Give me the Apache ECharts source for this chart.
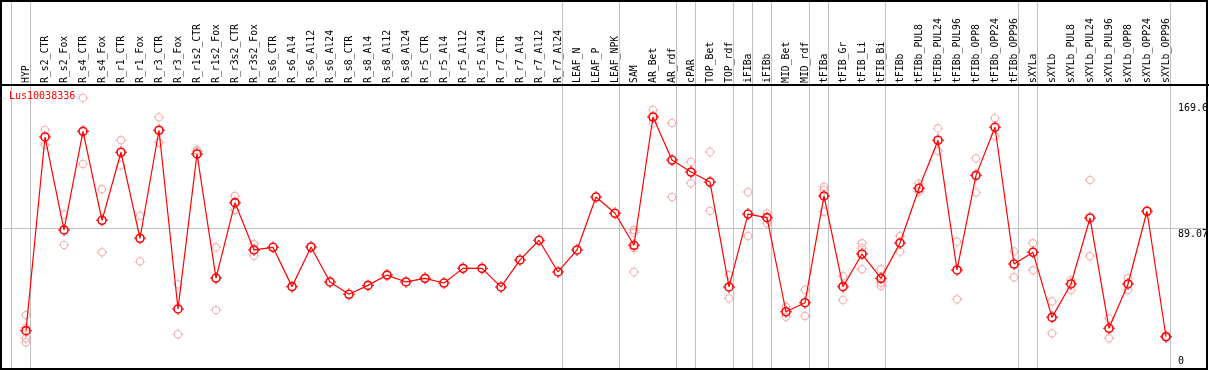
<!DOCTYPE html>
<html><head><meta charset="utf-8">
<script src="https://cdn.jsdelivr.net/npm/echarts@6/dist/echarts.min.js"></script>
<style>html,body{margin:0;padding:0;background:#fff}#c{width:1209px;height:370px}</style>
</head><body><div id="c"></div>
<script>
const seriesName = 'Lus10038336';
const categories = ['HYP','R_s2_CTR','R_s2_Fox','R_s4_CTR','R_s4_Fox','R_r1_CTR','R_r1_Fox','R_r3_CTR','R_r3_Fox','R_r1s2_CTR','R_r1s2_Fox','R_r3s2_CTR','R_r3s2_Fox','R_s6_CTR','R_s6_Al4','R_s6_Al12','R_s6_Al24','R_s8_CTR','R_s8_Al4','R_s8_Al12','R_s8_Al24','R_r5_CTR','R_r5_Al4','R_r5_Al12','R_r5_Al24','R_r7_CTR','R_r7_Al4','R_r7_Al12','R_r7_Al24','LEAF_N','LEAF_P','LEAF_NPK','SAM','AR_Bet','AR_rdf','cPAR','TOP_Bet','TOP_rdf','iFIBa','iFIBb','MID_Bet','MID_rdf','tFIBa','tFIB_Gr','tFIB_Li','tFIB_Bi','tFIBb','tFIBb_PUL8','tFIBb_PUL24','tFIBb_PUL96','tFIBb_OPP8','tFIBb_OPP24','tFIBb_OPP96','sXYLa','sXYLb','sXYLb_PUL8','sXYLb_PUL24','sXYLb_PUL96','sXYLb_OPP8','sXYLb_OPP24','sXYLb_OPP96'];
const meanValues = [23.3,147.4,87.8,151.0,94.0,137.6,82.5,151.7,37.2,136.5,57.0,105.3,75.0,76.7,51.5,76.9,54.5,46.6,52.3,58.9,54.5,56.8,53.8,63.2,63.2,51.3,68.6,81.2,60.9,75.0,108.9,98.5,78.0,160.2,132.6,124.9,118.5,51.3,98.0,95.7,35.4,41.2,109.6,51.5,72.4,56.8,79.5,114.5,145.3,62.2,122.8,153.6,66.0,73.5,31.8,53.2,95.5,24.8,53.2,99.8,19.4];
const repA = [33.3,151.9,97.8,172.4,113.9,145.3,96.9,160.0,53.0,139.0,76.7,109.6,78.8,null,null,null,null,null,null,null,null,null,null,null,null,null,null,null,null,null,null,null,87.8,164.7,156.3,131.4,137.8,58.9,112.1,98.5,38.6,49.3,115.5,58.3,79.3,62.6,83.9,117.4,152.9,80.3,133.7,159.4,74.1,79.3,42.1,55.7,119.8,31.2,56.8,null,20.0];
const repB = [25.2,142.2,78.2,130.1,73.5,129.2,67.7,143.7,21.0,138.0,36.5,100.6,71.3,null,null,null,null,null,null,null,null,null,null,null,null,null,null,null,null,null,null,null,86.1,156.1,108.9,117.7,100.0,44.0,83.9,92.1,32.2,32.7,113.4,42.9,76.1,54.0,73.9,112.3,138.4,43.4,111.9,148.0,57.5,62.0,21.6,49.3,71.1,18.4,49.3,null,18.8];
const repC = [18.4,null,null,null,null,null,null,null,null,null,null,null,null,null,null,null,null,null,null,null,null,null,null,null,null,null,null,null,null,null,null,null,76.1,null,null,null,null,null,null,null,null,null,99.5,null,62.6,51.9,null,null,null,null,null,null,null,null,null,null,null,null,null,null,null];
const repD = [15.8,null,null,null,null,null,null,null,null,null,null,null,null,null,null,null,null,null,null,null,null,null,null,null,null,null,null,null,null,null,null,null,60.9,null,null,null,null,null,null,null,null,null,null,null,null,null,null,null,null,null,null,null,null,null,null,null,null,null,null,null,null];
const yTickValues = [169.6, 89.07, 0];
const yTickLabels = ['169.6', '89.07', '0'];
const groupEnds = [-1,0,28,31,34,35,37,38,39,41,42,45,52,53,60];

const FONT = "'DejaVu Sans Mono', monospace";
const RED = '#ff0000';
const PINK = '#f09a9a';
const mainSym = 'path://M6,1.2A4.8,4.8,0,1,1,5.99,1.2ZM6,2.8A3.2,3.2,0,1,0,6.01,2.8ZM5.5,0H6.5V1.6H5.5ZM5.5,10.4H6.5V12H5.5ZM0,5.5H1.6V6.5H0ZM10.4,5.5H12V6.5H10.4Z';
const repSym = 'path://M6,1.5A4.5,4.5,0,1,1,5.99,1.5ZM6,2.6A3.4,3.4,0,1,0,6.01,2.6ZM5.5,0H6.5V1.6H5.5ZM5.5,10.4H6.5V12H5.5ZM0,5.5H1.6V6.5H0ZM10.4,5.5H12V6.5H10.4Z';

const repData = [];
[repA, repB, repC, repD].forEach(arr => arr.forEach((v, i) => { if (v !== null) repData.push([i, v]); }));
const mainData = meanValues.map((v, i) => [i, v]);

const chart = echarts.init(document.getElementById('c'), null, {renderer: 'canvas'});
chart.setOption({
  animation: false,
  backgroundColor: '#fff',
  title: { text: seriesName, left: 9, top: 91, padding: 0,
    textStyle: { color: RED, fontSize: 10, fontFamily: FONT, fontWeight: 'normal' } },
  grid: { left: 7, right: 5, top: 85, bottom: 3 },
  xAxis: { type: 'value', position: 'top', min: -1, max: 62, interval: 1,
    axisLine: { show: false }, axisTick: { show: false }, splitLine: { show: false },
    axisLabel: { rotate: 90, margin: 2, color: '#000', fontSize: 9.8, fontFamily: FONT,
      showMinLabel: true, showMaxLabel: true, hideOverlap: false,
      formatter: v => (Number.isInteger(v) && v >= 0 && v < categories.length) ? categories[v] : '' } },
  yAxis: { type: 'value', min: 0, max: 180.7, show: false },
  series: [
    { type: 'scatter', name: 'rep', data: repData, symbol: repSym, symbolSize: 11, z: 3,
      itemStyle: { color: PINK }, silent: true },
    { type: 'line', name: seriesName, data: mainData, symbol: mainSym, symbolSize: 12, z: 5,
      showAllSymbol: true, lineStyle: { color: RED, width: 1.2 }, itemStyle: { color: RED } }
  ]
});

const xPix = v => chart.convertToPixel({xAxisIndex: 0}, v);
const yPix = v => chart.convertToPixel({yAxisIndex: 0}, v);
const g = [];
groupEnds.forEach(i => {
  const x = Math.round(xPix(i)) + 4.5;
  g.push({ type: 'line', z: 1, silent: true, shape: { x1: x, y1: 0, x2: x, y2: 369 },
    style: { stroke: '#c0c0c0', lineWidth: 1 } });
});
const gy = Math.round(yPix(89.07)) + 0.5;
g.push({ type: 'line', z: 1, silent: true, shape: { x1: 1, y1: gy, x2: 1208, y2: gy },
  style: { stroke: '#c0c0c0', lineWidth: 1 } });
yTickValues.forEach((v, k) => {
  const y = yPix(v);
  g.push({ type: 'text', z: 8, silent: true, x: 1178, y: v === 0 ? y - 1 : y + 1,
    style: { text: yTickLabels[k], fill: '#000', fontSize: 10, fontFamily: FONT,
      textAlign: 'left', textVerticalAlign: v === 0 ? 'bottom' : 'top' } });
});
g.push({ type: 'rect', z: 20, silent: true, shape: { x: 1, y: 1, width: 1206, height: 368 },
  style: { fill: null, stroke: '#000', lineWidth: 2 } });
g.push({ type: 'line', z: 20, silent: true, shape: { x1: 0, y1: 85, x2: 1209, y2: 85 },
  style: { stroke: '#000', lineWidth: 2 } });
chart.setOption({ graphic: g });
</script></body></html>
